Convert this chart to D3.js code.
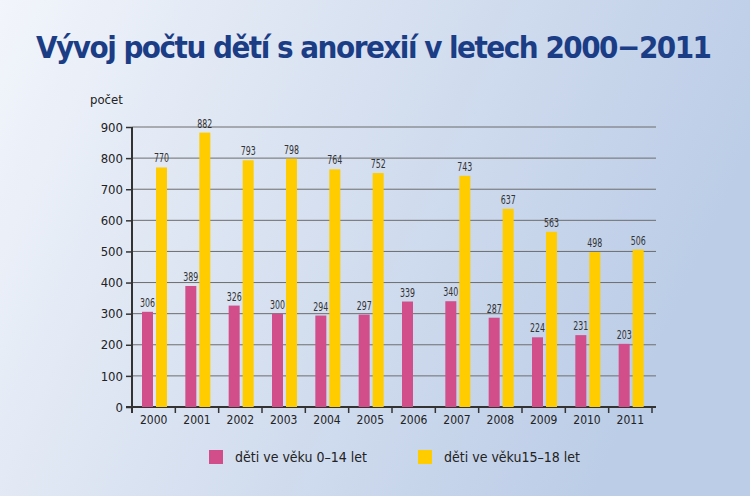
<!DOCTYPE html>
<html><head><meta charset="utf-8">
<script src="https://cdn.jsdelivr.net/npm/d3@7"></script>
<style>body{margin:0}svg{display:block}</style>
</head><body>
<script>
var years = ["2000","2001","2002","2003","2004","2005","2006","2007","2008","2009","2010","2011"];
var young = [306,389,326,300,294,297,339,340,287,224,231,203];
var teens = [770,882,793,798,764,752,null,743,637,563,498,506];
var yTicks = [0,100,200,300,400,500,600,700,800,900];

var svg = d3.select("body").append("svg").attr("width",750).attr("height",496);
var defs = svg.append("defs");
var g1 = defs.append("linearGradient").attr("id","bg").attr("x1","0").attr("x2","1").attr("y1","0").attr("y2","0.3");
g1.append("stop").attr("offset","0").attr("stop-color","#f2f5fb");
g1.append("stop").attr("offset","0.5").attr("stop-color","#d6e0f0");
g1.append("stop").attr("offset","1").attr("stop-color","#bccde7");
svg.append("rect").attr("width",750).attr("height",496).attr("fill","url(#bg)");

svg.append("text").attr("x",374).attr("y",58).attr("text-anchor","middle")
  .attr("font-family","DejaVu Sans Condensed").attr("font-weight","bold").attr("font-size",31)
  .attr("textLength",676).attr("fill","#1b3d86").text("Vývoj počtu dětí s anorexií v letech 2000−2011");

var x = d3.scaleBand().domain(years).range([132,652]);
var y = d3.scaleLinear().domain([0,900]).range([407,127]);

// grid
svg.selectAll(".grid").data(yTicks.slice(1)).enter().append("line")
  .attr("x1",132).attr("x2",656).attr("y1",d=>y(d)).attr("y2",d=>y(d))
  .attr("stroke","#6d6d6d").attr("stroke-width",1);

var yAxis = svg.append("g").attr("transform","translate(132,0)")
  .call(d3.axisLeft(y).tickValues(yTicks).tickSize(6).tickPadding(3));
yAxis.select(".domain").attr("d","M0,127V413").attr("stroke","#333").attr("stroke-width",2);
yAxis.selectAll("line").attr("stroke","#333").attr("stroke-width",1.5);
yAxis.selectAll("text").attr("font-family","DejaVu Sans Condensed").attr("font-size",13).attr("fill","#222");

svg.append("line").attr("x1",126).attr("x2",656).attr("y1",407).attr("y2",407).attr("stroke","#333").attr("stroke-width",2);
svg.selectAll(".ct").data(years.concat(["end"])).enter().append("line")
  .attr("x1",(d,i)=>132+i*x.step()).attr("x2",(d,i)=>132+i*x.step())
  .attr("y1",407).attr("y2",413).attr("stroke","#333").attr("stroke-width",1.5);
svg.selectAll(".cl").data(years).enter().append("text")
  .attr("x",d=>x(d)+x.bandwidth()/2).attr("y",424).attr("text-anchor","middle")
  .attr("font-family","DejaVu Sans Condensed").attr("font-size",12).attr("fill","#222").text(d=>d);

svg.append("text").attr("x",90).attr("y",104).attr("font-family","DejaVu Sans Condensed")
  .attr("font-size",13).attr("fill","#222").text("počet");

function bars(vals, off, col){
  var d = years.map((k,i)=>({k:k,v:vals[i]})).filter(o=>o.v!=null);
  svg.selectAll(null).data(d).enter().append("rect")
    .attr("x",o=>x(o.k)+off).attr("width",11).attr("y",o=>y(o.v)).attr("height",o=>407-y(o.v)).attr("fill",col);
  svg.selectAll(null).data(d).enter().append("text")
    .attr("x",o=>x(o.k)+off+5.5).attr("y",o=>y(o.v)-5).attr("text-anchor","middle")
    .attr("font-family","DejaVu Sans Condensed").attr("font-size",12)
    .attr("textLength",15).attr("lengthAdjust","spacingAndGlyphs")
    .attr("fill","#333").text(o=>o.v);
}
bars(young,10,"#d14e8a");
bars(teens,24,"#ffcc00");

var leg = [["děti ve věku 0–14 let","#d14e8a",209],["děti ve věku15–18 let","#ffcc00",418]];
leg.forEach(function(l){
  svg.append("rect").attr("x",l[2]).attr("y",450).attr("width",14).attr("height",14).attr("fill",l[1]);
  svg.append("text").attr("x",l[2]+26).attr("y",462).attr("font-family","DejaVu Sans Condensed")
    .attr("font-size",14).attr("fill","#222").text(l[0]);
});
</script>
</body></html>
